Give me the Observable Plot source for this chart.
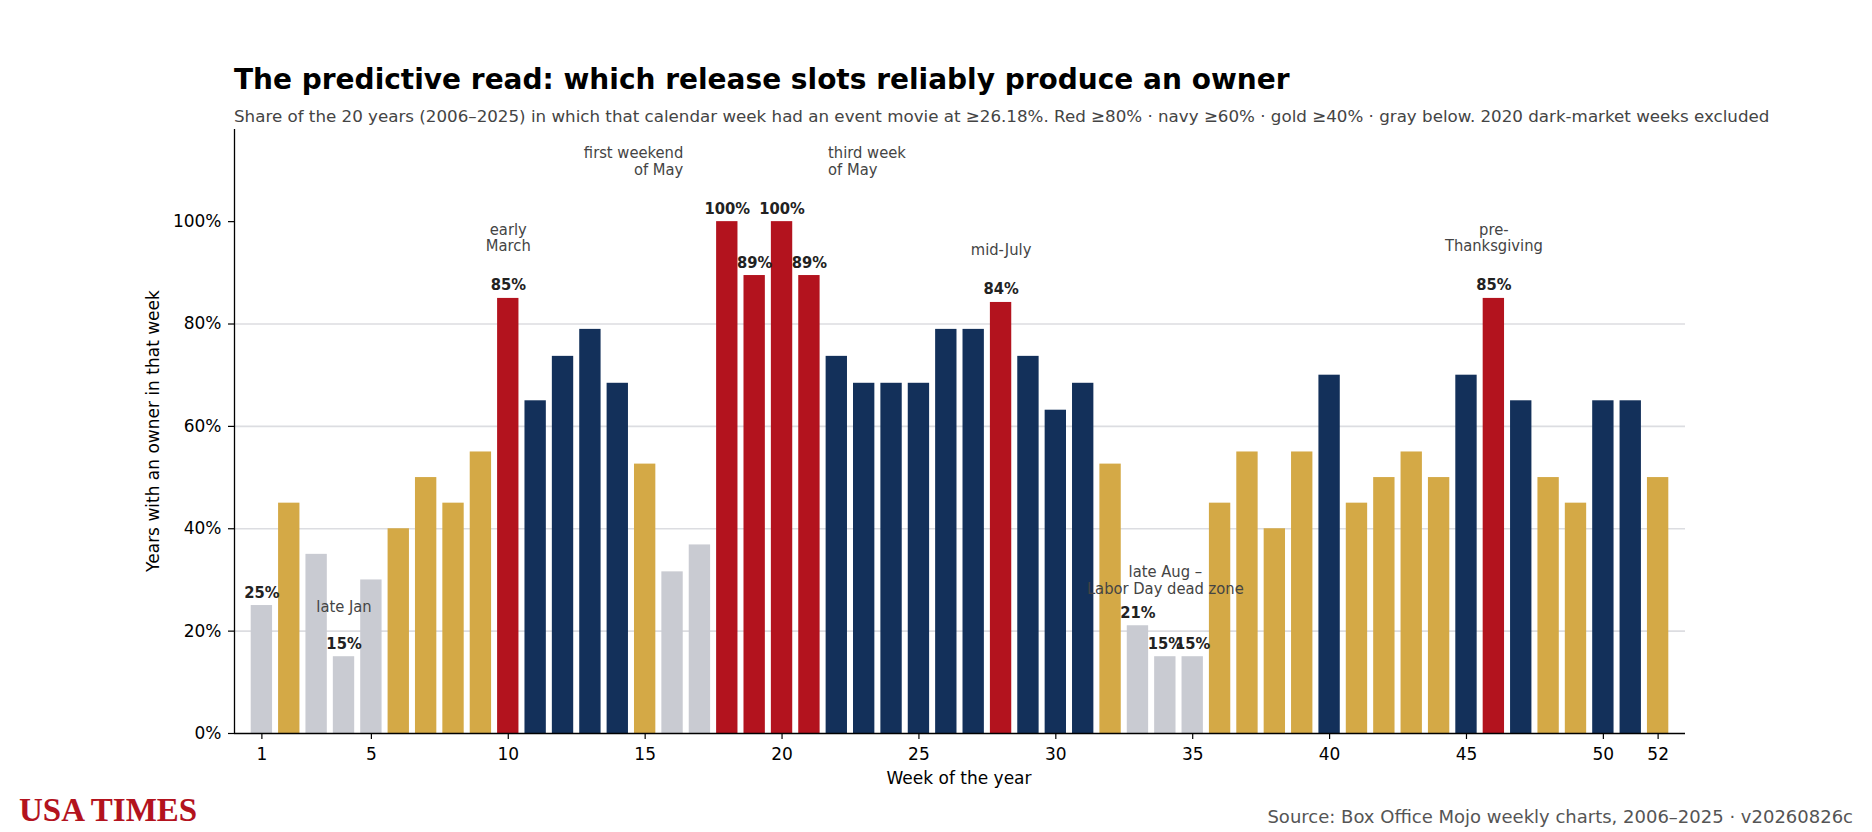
<!DOCTYPE html>
<html><head><meta charset="utf-8">
<script src="https://cdn.jsdelivr.net/npm/d3@7"></script>
<script src="https://cdn.jsdelivr.net/npm/@observablehq/plot@0.6"></script>
<style>
body{margin:0;background:#fff;}
#wrap{position:relative;width:1872px;height:832px;overflow:hidden;font-family:"DejaVu Sans",sans-serif;}
.abs{position:absolute;white-space:nowrap;line-height:1;}
#title{left:234px;top:66px;font-size:28px;font-weight:bold;color:#000;}
#subtitle{left:234px;top:108px;font-size:16.7px;color:#444;}
#xlabel{left:959px;top:770px;font-size:17px;color:#000;transform:translateX(-50%);}
#ylabel{left:153px;top:431px;font-size:17px;color:#000;transform:translate(-50%,-50%) rotate(-90deg);}
#brand{left:19px;top:794px;font-size:33px;font-weight:bold;color:#b3131e;font-family:"Liberation Serif",serif;}
#source{right:19px;top:808px;font-size:18px;color:#555;}
#chart{position:absolute;left:0;top:0;}
</style></head><body><div id="wrap">
<div id="chart"></div>
<div class="abs" id="title">The predictive read: which release slots reliably produce an owner</div>
<div class="abs" id="subtitle">Share of the 20 years (2006–2025) in which that calendar week had an event movie at ≥26.18%. Red ≥80% · navy ≥60% · gold ≥40% · gray below. 2020 dark-market weeks excluded</div>
<div class="abs" id="xlabel">Week of the year</div>
<div class="abs" id="ylabel">Years with an owner in that week</div>
<div class="abs" id="brand">USA TIMES</div>
<div class="abs" id="source">Source: Box Office Mojo weekly charts, 2006–2025 · v20260826c</div>
</div>
<script>
// ---- data ----
const weeks = [1,2,3,4,5,6,7,8,9,10,11,12,13,14,15,16,17,18,19,20,21,22,23,24,25,26,
  27,28,29,30,31,32,33,34,35,36,37,38,39,40,41,42,43,44,45,46,47,48,49,50,51,52];
const shares = [25,45,35,15,30,40,50,45,55,85,
  65,73.68,78.95,68.42,52.63,31.58,36.84,100,89.47,100,
  89.47,73.68,68.42,68.42,68.42,78.95,78.95,84.21,73.68,63.16,
  68.42,52.63,21.05,15,15,45,55,40,55,70,
  45,50,55,50,70,85,65,50,45,65,65,50];
const tiers = ["≥80%","≥60%","≥40%","below"];
const tierColors = ["#b3131e","#13305a","#d4a946","#c9cbd2"];
const xTicks = [1,5,10,15,20,25,30,35,40,45,50,52];
const yTicks = [0,20,40,60,80,100];
const gridTicks = [20,40,60,80];
const labeledWeeks = [1,4,10,18,19,20,21,28,33,34,35,46];
const notes = [
  {week:4,  text:"late Jan"},
  {week:10, text:"early\nMarch"},
  {week:18, text:"first weekend\nof May"},
  {week:20, text:"third week\nof May"},
  {week:28, text:"mid-July"},
  {week:34, text:"late Aug –\nLabor Day dead zone"},
  {week:46, text:"pre-\nThanksgiving"}
];

// ---- build ----
const tierOf = v => v >= 80 ? tiers[0] : v >= 60 ? tiers[1] : v >= 40 ? tiers[2] : tiers[3];
const data = weeks.map((w, i) => ({week: w, share: shares[i], tier: tierOf(shares[i])}));
const shareOf = w => data.find(d => d.week === w).share;
const noteData = notes.map(n => ({...n, share: shareOf(n.week)}));
const noteStyle = {
  "late Jan": {dx: 0, dy: -45, textAnchor: "middle"},
  "early\nMarch": {dx: 0, dy: -47, textAnchor: "middle"},
  "first weekend\nof May": {dx: -44, dy: -47, textAnchor: "end"},
  "third week\nof May": {dx: 46, dy: -47, textAnchor: "start"},
  "mid-July": {dx: 0, dy: -47, textAnchor: "middle"},
  "late Aug –\nLabor Day dead zone": {dx: 0, dy: -63, textAnchor: "middle"},
  "pre-\nThanksgiving": {dx: 0, dy: -47, textAnchor: "middle"}
};
const condensed = "DejaVu Sans Condensed, DejaVu Sans, sans-serif";
const noteMarks = noteData.map(n => Plot.text([n], {
  x: "week", y: "share", text: "text",
  dx: noteStyle[n.text].dx, dy: noteStyle[n.text].dy,
  textAnchor: noteStyle[n.text].textAnchor,
  lineAnchor: "bottom", lineHeight: 1.02,
  fontSize: 16.4, fontFamily: condensed, fill: "#444"
}));
const halfBar = 0.39;

const plot = Plot.plot({
  width: 1872, height: 832,
  marginTop: 129, marginBottom: 99, marginLeft: 234, marginRight: 187,
  style: {fontFamily: "DejaVu Sans, sans-serif", fontSize: "17px", color: "#000", background: "transparent", overflow: "visible"},
  x: {type: "linear", domain: [0, 53], label: null},
  y: {domain: [0, 118], label: null},
  color: {type: "ordinal", domain: tiers, range: tierColors},
  marks: [
    Plot.gridY(gridTicks, {stroke: "#dcdde1", strokeOpacity: 1, strokeWidth: 1.7}),
    Plot.rectY(data, {x1: d => d.week - halfBar, x2: d => d.week + halfBar, y: "share", fill: "tier"}),
    Plot.axisX(xTicks, {tickSize: 6, tickPadding: 8, fontSize: 17, label: null, stroke: "#000", strokeWidth: 1.2}),
    Plot.axisY(yTicks, {tickSize: 6, tickPadding: 7, tickFormat: d => d + "%", fontSize: 17, label: null, stroke: "#000", strokeWidth: 1.2}),
    Plot.ruleY([0], {stroke: "#000", strokeWidth: 1.3}),
    Plot.ruleX([0], {stroke: "#000", strokeWidth: 1.3}),
    Plot.text(data.filter(d => labeledWeeks.includes(d.week)), {
      x: "week", y: "share", text: d => Math.round(d.share) + "%",
      dy: -8, lineAnchor: "bottom", fontWeight: "bold", fontSize: 16.4,
      fontFamily: condensed, fill: "#222"
    }),
    ...noteMarks
  ]
});
document.getElementById("chart").appendChild(plot);
</script>
</body></html>
